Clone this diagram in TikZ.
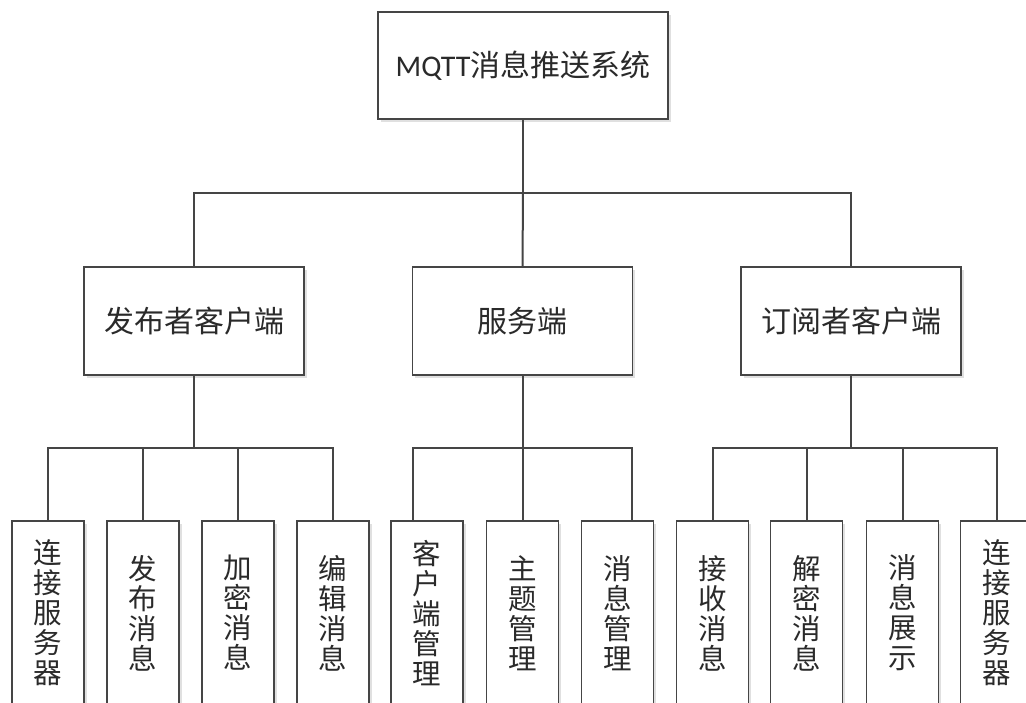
\documentclass[tikz,border=0pt]{standalone}
\usepackage{fontspec}
\setmainfont{Noto Sans CJK SC}
\newfontfamily\latfont{Carlito}
\usetikzlibrary{shadows}
\definecolor{edge}{HTML}{454545}
\definecolor{txt}{HTML}{2A2A2A}
\tikzset{
  box/.style={draw=edge, line width=1.3pt, fill=white, text=txt, inner sep=0pt,
    drop shadow={shadow xshift=2.5pt, shadow yshift=-2.5pt, fill=black!20, opacity=0.6}},
  bigbox/.style={box, minimum width=220pt, minimum height=108pt, font=\fontsize{30}{36}\selectfont},
  leafbox/.style={box, minimum width=72pt, minimum height=184pt, align=center,
    font=\fontsize{28.5}{30}\selectfont},
  link/.style={draw=edge, line width=2pt}
}
\begin{document}
\begin{tikzpicture}[x=1pt,y=-1pt]
\clip (0,0) rectangle (1026,702);
\fill[white] (0,0) rectangle (1026,702);
% top
\node[box, minimum width=290pt, minimum height=107pt, font=\fontsize{30}{36}\selectfont] (top) at (523,65.5) {{\latfont MQTT}消息推送系统};
% middle
\node[bigbox] (pub) at (194,321) {发布者客户端};
\node[bigbox] (srv) at (522.5,321) {服务端};
\node[bigbox] (sub) at (851,321) {订阅者客户端};
% leaves (top edge at y=521)
\node[leafbox] (p1) at (48,613) {连\\接\\服\\务\\器};
\node[leafbox] (p2) at (143,613) {发\\布\\消\\息};
\node[leafbox] (p3) at (238,613) {加\\密\\消\\息};
\node[leafbox] (p4) at (333,613) {编\\辑\\消\\息};
\node[leafbox] (s1) at (427,613) {客\\户\\端\\管\\理};
\node[leafbox] (s2) at (522.5,613) {主\\题\\管\\理};
\node[leafbox] (s3) at (617.5,613) {消\\息\\管\\理};
\node[leafbox] (r1) at (712.5,613) {接\\收\\消\\息};
\node[leafbox] (r2) at (806.5,613) {解\\密\\消\\息};
\node[leafbox] (r3) at (902.5,613) {消\\息\\展\\示};
\node[leafbox] (r4) at (996.5,613) {连\\接\\服\\务\\器};
% connectors top level
\coordinate (bus0) at (523,193);
\path[link] (top.south) -- (bus0);
\path[link] (pub.north) |- (bus0) -| (sub.north);
\path[link] (bus0) -- (srv.north);
% publisher group
\coordinate (busP) at (194,448);
\path[link] (pub.south) -- (busP);
\path[link] (p1.north) |- (busP) -| (p4.north);
\path[link] (p2.north) -- (p2.north |- busP);
\path[link] (p3.north) -- (p3.north |- busP);
% server group
\coordinate (busS) at (522.5,448);
\coordinate (s1c) at (413,521);
\coordinate (s3c) at (632,521);
\path[link] (srv.south) -- (s2.north);
\path[link] (s1c) |- (busS) -| (s3c);
\path[link] (s1.north -| s1c) -- (s1c);
% subscriber group
\coordinate (busR) at (851,448);
\path[link] (sub.south) -- (busR);
\path[link] (r1.north) |- (busR) -| (r4.north);
\path[link] (r2.north) -- (r2.north |- busR);
\path[link] (r3.north) -- (r3.north |- busR);
\end{tikzpicture}
\end{document}
